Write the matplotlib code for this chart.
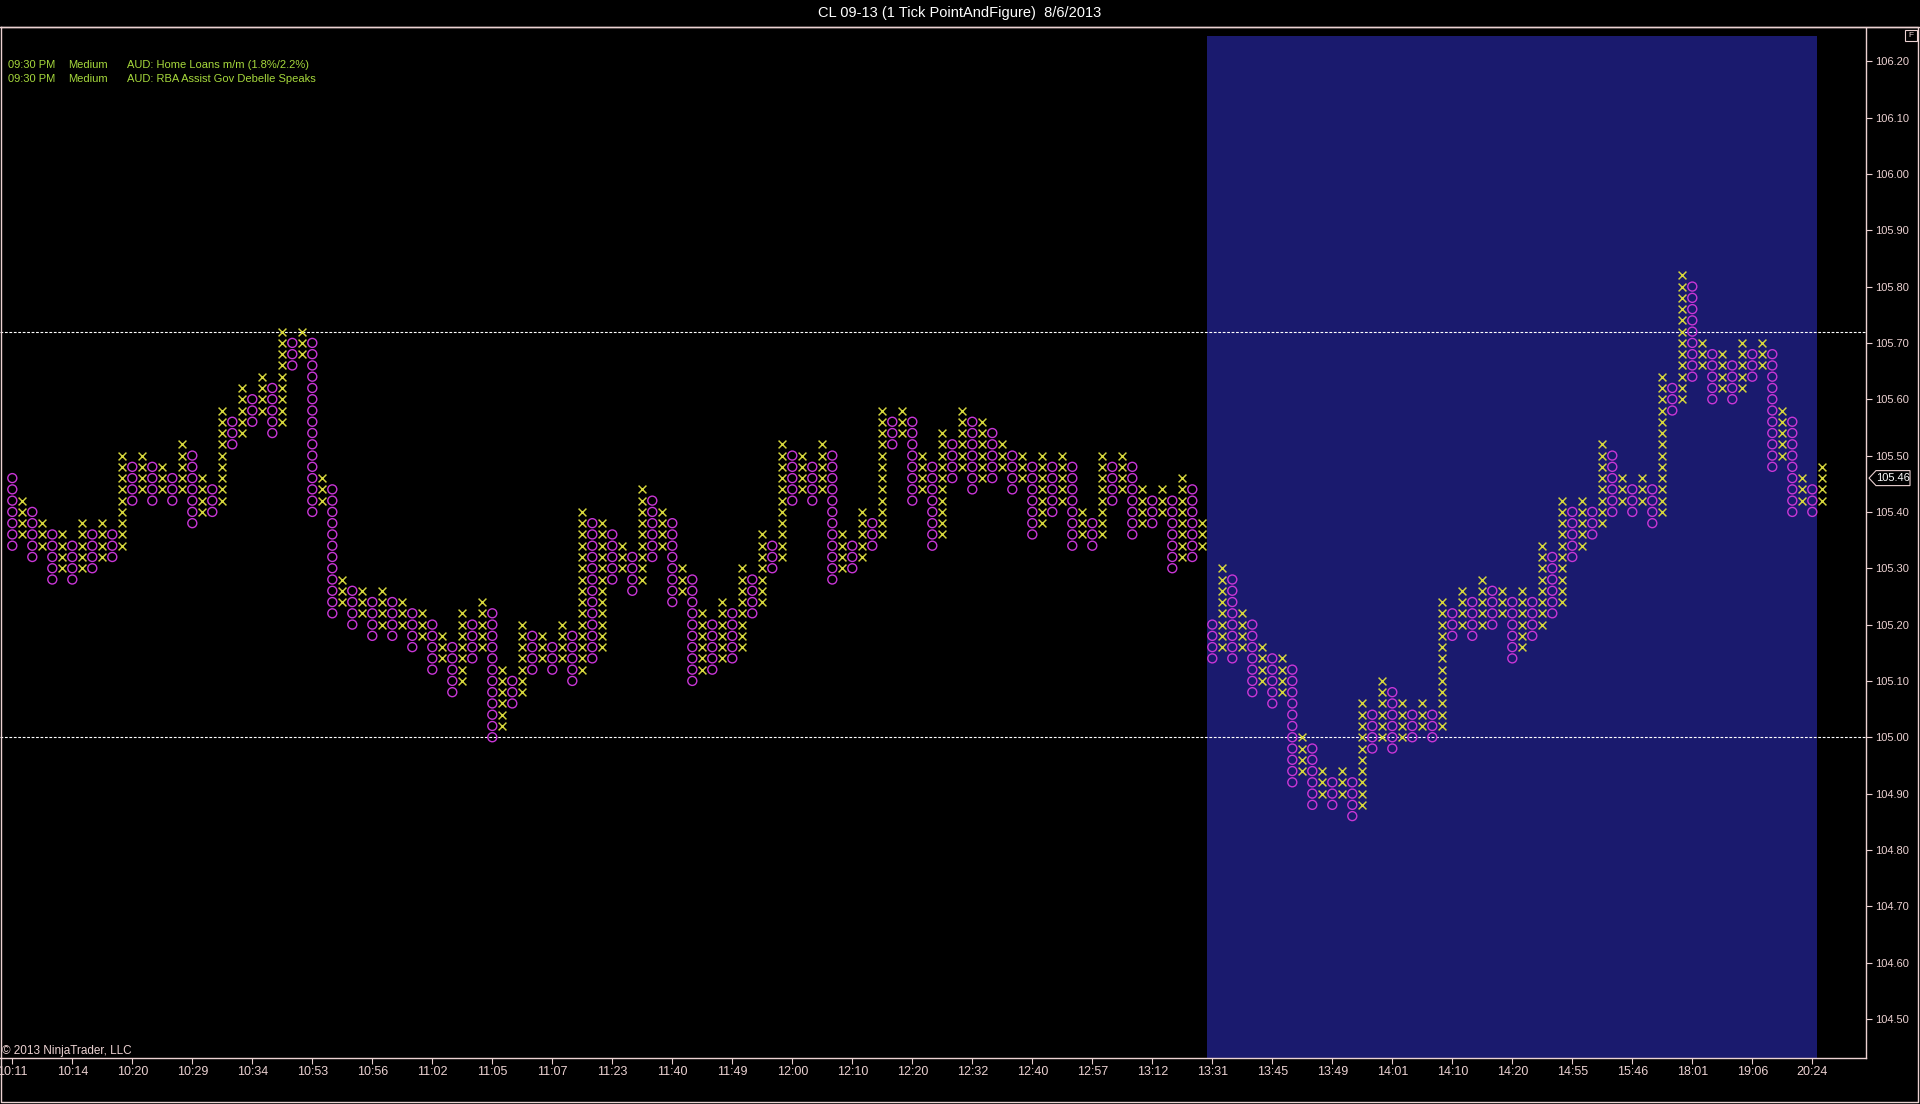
import numpy as np
import matplotlib

matplotlib.use("Agg")
import matplotlib.pyplot as plt  # noqa: E402
from matplotlib import font_manager  # noqa: E402
from matplotlib.patches import Polygon, Rectangle  # noqa: E402

# point & figure columns (box = 0.02), oldest first
col_high = [
    105.46, 105.42, 105.40, 105.38, 105.36, 105.36, 105.34, 105.38, 105.36, 105.38,
    105.36, 105.50, 105.48, 105.50, 105.48, 105.48, 105.46, 105.52, 105.50, 105.46,
    105.44, 105.58, 105.56, 105.62, 105.60, 105.64, 105.62, 105.72, 105.70, 105.72,
    105.70, 105.46, 105.44, 105.28, 105.26, 105.26, 105.24, 105.26, 105.24, 105.24,
    105.22, 105.22, 105.20, 105.18, 105.16, 105.22, 105.20, 105.24, 105.22, 105.12,
    105.10, 105.20, 105.18, 105.18, 105.16, 105.20, 105.18, 105.40, 105.38, 105.38,
    105.36, 105.34, 105.32, 105.44, 105.42, 105.40, 105.38, 105.30, 105.28, 105.22,
    105.20, 105.24, 105.22, 105.30, 105.28, 105.36, 105.34, 105.52, 105.50, 105.50,
    105.48, 105.52, 105.50, 105.36, 105.34, 105.40, 105.38, 105.58, 105.56, 105.58,
    105.56, 105.50, 105.48, 105.54, 105.52, 105.58, 105.56, 105.56, 105.54, 105.52,
    105.50, 105.50, 105.48, 105.50, 105.48, 105.50, 105.48, 105.40, 105.38, 105.50,
    105.48, 105.50, 105.48, 105.44, 105.42, 105.44, 105.42, 105.46, 105.44, 105.38,
    105.20, 105.30, 105.28, 105.22, 105.20, 105.16, 105.14, 105.14, 105.12, 105.00,
    104.98, 104.94, 104.92, 104.94, 104.92, 105.06, 105.04, 105.10, 105.08, 105.06,
    105.04, 105.06, 105.04, 105.24, 105.22, 105.26, 105.24, 105.28, 105.26, 105.26,
    105.24, 105.26, 105.24, 105.34, 105.32, 105.42, 105.40, 105.42, 105.40, 105.52,
    105.50, 105.46, 105.44, 105.46, 105.44, 105.64, 105.62, 105.82, 105.80, 105.70,
    105.68, 105.68, 105.66, 105.70, 105.68, 105.70, 105.68, 105.58, 105.56, 105.46,
    105.44, 105.48,
]
col_low = [
    105.34, 105.36, 105.32, 105.34, 105.28, 105.30, 105.28, 105.30, 105.30, 105.32,
    105.32, 105.34, 105.42, 105.44, 105.42, 105.44, 105.42, 105.44, 105.38, 105.40,
    105.40, 105.42, 105.52, 105.54, 105.56, 105.58, 105.54, 105.56, 105.66, 105.68,
    105.40, 105.42, 105.22, 105.24, 105.20, 105.22, 105.18, 105.20, 105.18, 105.20,
    105.16, 105.18, 105.12, 105.14, 105.08, 105.10, 105.14, 105.16, 105.00, 105.02,
    105.06, 105.08, 105.12, 105.14, 105.12, 105.14, 105.10, 105.12, 105.14, 105.16,
    105.28, 105.30, 105.26, 105.28, 105.32, 105.34, 105.24, 105.26, 105.10, 105.12,
    105.12, 105.14, 105.14, 105.16, 105.22, 105.24, 105.30, 105.32, 105.42, 105.44,
    105.42, 105.44, 105.28, 105.30, 105.30, 105.32, 105.34, 105.36, 105.52, 105.54,
    105.42, 105.44, 105.34, 105.36, 105.46, 105.48, 105.44, 105.46, 105.46, 105.48,
    105.44, 105.46, 105.36, 105.38, 105.40, 105.42, 105.34, 105.36, 105.34, 105.36,
    105.42, 105.44, 105.36, 105.38, 105.38, 105.40, 105.30, 105.32, 105.32, 105.34,
    105.14, 105.16, 105.14, 105.16, 105.08, 105.10, 105.06, 105.08, 104.92, 104.94,
    104.88, 104.90, 104.88, 104.90, 104.86, 104.88, 104.98, 105.00, 104.98, 105.00,
    105.00, 105.02, 105.00, 105.02, 105.18, 105.20, 105.18, 105.20, 105.20, 105.22,
    105.14, 105.16, 105.18, 105.20, 105.22, 105.24, 105.32, 105.34, 105.36, 105.38,
    105.40, 105.42, 105.40, 105.42, 105.38, 105.40, 105.58, 105.60, 105.64, 105.66,
    105.60, 105.62, 105.60, 105.62, 105.64, 105.66, 105.48, 105.50, 105.40, 105.42,
    105.40, 105.42,
]
first_kind = "O"  # columns alternate O / X
box_size = 0.02

time_labels = [
    "10:11", "10:14", "10:20", "10:29", "10:34", "10:53", "10:56", "11:02",
    "11:05", "11:07", "11:23", "11:40", "11:49", "12:00", "12:10", "12:20",
    "12:32", "12:40", "12:57", "13:12", "13:31", "13:45", "13:49", "14:01",
    "14:10", "14:20", "14:55", "15:46", "18:01", "19:06", "20:24",
]
label_every = 6
price_ticks = [104.50, 104.60, 104.70, 104.80, 104.90, 105.00, 105.10, 105.20, 105.30,
               105.40, 105.50, 105.60, 105.70, 105.80, 105.90, 106.00, 106.10, 106.20]
ref_lines = [105.72, 105.00]
shaded_cols = (120, 180)
last_price = 105.46
events = [
    ("09:30 PM", "Medium", "AUD: Home Loans m/m (1.8%/2.2%)"),
    ("09:30 PM", "Medium", "AUD: RBA Assist Gov Debelle Speaks"),
]
title = "CL 09-13 (1 Tick PointAndFigure)  8/6/2013"

PINK = "#ecd2d2"
X_COL = "#d6d63c"
O_COL = "#c936d6"
BLUE = "#1a1a6e"

installed = {f.name for f in font_manager.fontManager.ttflist}
NARROW = "Liberation Sans Narrow" if "Liberation Sans Narrow" in installed else "Liberation Sans"
plt.rcParams["font.family"] = ["Liberation Sans", "DejaVu Sans"]

W, H = 1920, 1104
fig = plt.figure(figsize=(W / 100, H / 100), dpi=100, facecolor="black")

# main plot area (pixel box 0..1866 x 28..1058)
ax = fig.add_axes([0, (H - 1058) / H, 1866 / W, 1030 / H], facecolor="black")
ax.set_xlim(-1.23, 185.37)
ax.set_ylim(104.4306, 106.259)

ax.axvspan(shaded_cols[0] - 0.5, shaded_cols[1] + 0.5, ymin=0, ymax=(1058 - 35.5) / 1030,
           color=BLUE, lw=0, zorder=0)
for y in ref_lines:
    ax.axhline(y, color="white", lw=0.8, ls=(0, (2.5, 1.5)), zorder=1)

xs_x, ys_x, xs_o, ys_o = [], [], [], []
kinds = "XO" if first_kind == "X" else "OX"
for i, (hi, lo) in enumerate(zip(col_high, col_low)):
    n = int(round((hi - lo) / box_size)) + 1
    ys = [lo + box_size * j for j in range(n)]
    if kinds[i % 2] == "X":
        xs_x += [i] * n
        ys_x += ys
    else:
        xs_o += [i] * n
        ys_o += ys

ax.scatter(xs_x, ys_x, marker="x", s=32, c=X_COL, linewidths=1.05, zorder=3)
ax.scatter(xs_o, ys_o, marker="o", s=42, facecolors="none", edgecolors=O_COL,
           linewidths=1.0, zorder=3)

# axes styling
for side in ("left", "top"):
    ax.spines[side].set_visible(False)
for side in ("right", "bottom"):
    ax.spines[side].set_color(PINK)
    ax.spines[side].set_linewidth(1.0)

ax.yaxis.tick_right()
ax.set_yticks(price_ticks)
ax.set_yticklabels([f"{p:.2f}" for p in price_ticks])
ax.tick_params(axis="y", colors=PINK, length=4, width=0.8, labelsize=8, pad=2.5)

ax.set_xticks(range(0, len(time_labels) * label_every, label_every))
ax.set_xticklabels(time_labels)
ax.tick_params(axis="x", colors=PINK, length=4, width=0.8, labelsize=9, pad=1.5)
for lbl in ax.get_xticklabels():
    lbl.set_family(NARROW)

# overlay in figure pixels for frame and texts
ov = fig.add_axes([0, 0, 1, 1], facecolor="none")
ov.set_xlim(0, W)
ov.set_ylim(H, 0)
ov.axis("off")

ov.plot([0, W], [27, 27], color=PINK, lw=1.0)
ov.plot([1, 1, W - 2, W - 2, 1], [27, H - 2, H - 2, 27, 27], color=PINK, lw=1.0)

ov.text(960, 13, title, ha="center", va="center", color="white", fontsize=10.5)

for row, (t, imp, msg) in enumerate(events):
    yy = 65 + row * 13.5
    ov.text(8, yy, t, va="center", color="#a6d83c", fontsize=8)
    ov.text(68, yy, imp, va="center", color="#a6d83c", fontsize=8)
    ov.text(127, yy, msg, va="center", color="#a6d83c", fontsize=8)

ov.text(2, 1051, "© 2013 NinjaTrader, LLC", va="center", color=PINK, fontsize=8.5, family=NARROW)

# "F" box at top right
ov.add_patch(Rectangle((1905, 30), 12, 11, fill=False, ec=PINK, lw=0.8))
ov.text(1911, 35.5, "F", ha="center", va="center", color=PINK, fontsize=6)

# last price flag on the axis
py = H - ax.transData.transform((0, last_price))[1]
ov.add_patch(Polygon([(1869, py), (1876, py - 7.5), (1910, py - 7.5), (1910, py + 7.5),
                      (1876, py + 7.5)], closed=True, fc="black", ec=PINK, lw=0.8, zorder=5))
ov.text(1893, py, f"{last_price:.2f}", ha="center", va="center", color="white", fontsize=8, zorder=6)

fig.savefig("out.png", dpi=100, facecolor="black")
